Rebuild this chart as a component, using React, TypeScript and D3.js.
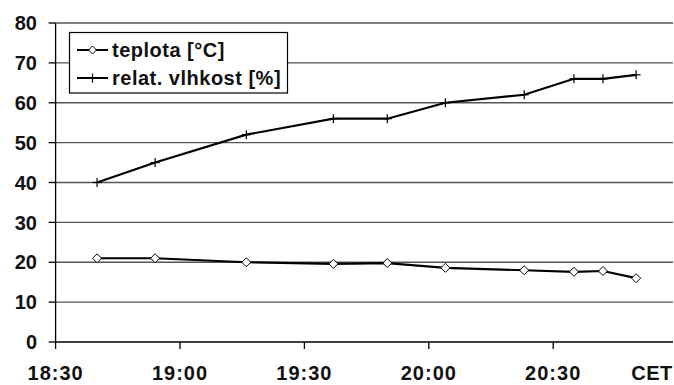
import React from "react";
import * as d3 from "d3";

const timeLabels = ["18:30", "19:00", "19:30", "20:00", "20:30"];
const yTicks = [0, 10, 20, 30, 40, 50, 60, 70, 80];
// minutes since 18:30
const sampleMinutes = [10, 24, 46, 67, 80, 94, 113, 125, 132, 140];
const teplota = [21, 21, 20, 19.6, 19.8, 18.6, 18, 17.6, 17.8, 16];
const vlhkost = [40, 45, 52, 56, 56, 60, 62, 66, 66, 67];
const seriesNames = ["teplota [°C]", "relat. vlhkost [%]"];

const W = 674;
const H = 385;
const FONT = "'Liberation Sans', Arial, sans-serif";

export default function App() {
  const x = d3.scaleLinear().domain([0, 150]).range([55.6, 677.6]);
  const y = d3.scaleLinear().domain([0, 80]).range([342, 23]);
  const line = d3
    .line<number>()
    .x((_, i) => x(sampleMinutes[i]))
    .y((d) => y(d));
  const tickMinutes = timeLabels.map((_, i) => i * 30);

  const diamond = (cx: number, cy: number, r = 4.5) =>
    `M${cx},${cy - r}L${cx + r},${cy}L${cx},${cy + r}L${cx - r},${cy}Z`;

  return (
    <svg
      width={W}
      height={H}
      style={{ position: "absolute", left: 0, top: 0, background: "#fff" }}
      fontFamily={FONT}
    >
      <rect width={W} height={H} fill="#fff" />
      {/* grid */}
      {yTicks
        .filter((t) => t > 0)
        .map((t) => (
          <line key={t} x1={x(0)} x2={673} y1={y(t)} y2={y(t)} stroke="#555" strokeWidth={1.3} />
        ))}
      {/* axes */}
      <line x1={x(0)} x2={x(0)} y1={y(80)} y2={y(0)} stroke="#000" strokeWidth={1.3} />
      <line x1={x(0)} x2={673} y1={y(0)} y2={y(0)} stroke="#000" strokeWidth={1.3} />
      {yTicks.map((t) => (
        <g key={t}>
          <line x1={x(0) - 7} x2={x(0)} y1={y(t)} y2={y(t)} stroke="#000" strokeWidth={1.3} />
          <text
            x={37}
            y={y(t)}
            dy="0.36em"
            textAnchor="end"
            fontSize={20}
            fontWeight="bold"
            fill="#111"
          >
            {t}
          </text>
        </g>
      ))}
      {tickMinutes.map((m, i) => (
        <g key={m}>
          <line x1={x(m)} x2={x(m)} y1={y(0)} y2={y(0) + 7} stroke="#000" strokeWidth={1.3} />
          <text
            x={x(m)}
            y={380}
            textAnchor="middle"
            fontSize={20}
            fontWeight="bold"
            fill="#111"
            letterSpacing={1}
          >
            {timeLabels[i]}
          </text>
        </g>
      ))}
      <text x={652} y={380} textAnchor="middle" fontSize={20} fontWeight="bold" fill="#111" letterSpacing={0.5}>
        CET
      </text>

      {/* series */}
      <path d={line(vlhkost) || ""} fill="none" stroke="#000" strokeWidth={2.2} />
      {vlhkost.map((v, i) => (
        <g key={i} stroke="#000" strokeWidth={1.2}>
          <line x1={x(sampleMinutes[i])} x2={x(sampleMinutes[i])} y1={y(v) - 4.5} y2={y(v) + 4.5} />
          <line x1={x(sampleMinutes[i]) - 4.5} x2={x(sampleMinutes[i]) + 4.5} y1={y(v)} y2={y(v)} />
        </g>
      ))}
      <path d={line(teplota) || ""} fill="none" stroke="#000" strokeWidth={2.2} />
      {teplota.map((v, i) => (
        <path
          key={i}
          d={diamond(x(sampleMinutes[i]), y(v))}
          fill="#fff"
          stroke="#000"
          strokeWidth={1}
        />
      ))}

      {/* legend */}
      <rect x={69.5} y={32.5} width={218} height={60.5} fill="#fff" stroke="#000" strokeWidth={1.2} />
      <line x1={77} x2={108} y1={50} y2={50} stroke="#000" strokeWidth={2} />
      <path d={diamond(92.5, 50, 4)} fill="#fff" stroke="#000" strokeWidth={1} />
      <text x={112} y={50} dy="0.36em" fontSize={20} fontWeight="bold" fill="#111" letterSpacing={0.5}>
        {seriesNames[0]}
      </text>
      <line x1={77} x2={108} y1={78} y2={78} stroke="#000" strokeWidth={2} />
      <line x1={92.5} x2={92.5} y1={73.5} y2={82.5} stroke="#000" strokeWidth={1.2} />
      <text x={112} y={78} dy="0.36em" fontSize={20} fontWeight="bold" fill="#111" letterSpacing={0.5}>
        {seriesNames[1]}
      </text>
    </svg>
  );
}
